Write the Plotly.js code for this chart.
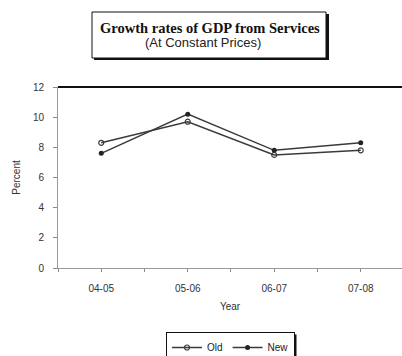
<!DOCTYPE html>
<html>
<head>
<meta charset="utf-8">
<script src="https://cdn.plot.ly/plotly-3.0.1.min.js"></script>
<style>
  html, body { margin: 0; padding: 0; background: #fff; }
  #chart { width: 402px; height: 356px; }
</style>
</head>
<body>
<div id="chart"></div>
<script>
// Services GDP growth, old vs new series (percent)
const years = ['04-05', '05-06', '06-07', '07-08'];
const oldSeries = [8.3, 9.7, 7.5, 7.8];
const newSeries = [7.6, 10.2, 7.8, 8.3];
const yTicks = [0, 2, 4, 6, 8, 10, 12];

const xIdx = years.map((_, i) => i);
const sans = 'Liberation Sans, Arial, sans-serif';
const serif = 'Liberation Serif, Times New Roman, serif';

const traces = [
  {
    x: xIdx, y: oldSeries, name: 'Old', type: 'scatter', mode: 'lines+markers',
    line: { color: '#3a3a3a', width: 1.5 },
    marker: { symbol: 'circle-open', size: 5, color: '#3a3a3a', line: { width: 1.2 } }
  },
  {
    x: xIdx, y: newSeries, name: 'New', type: 'scatter', mode: 'lines+markers',
    line: { color: '#3a3a3a', width: 1.5 },
    marker: { symbol: 'circle', size: 5, color: '#222' }
  }
];

// pixel helpers for paper coordinates (plot area 58..402 x 87..268)
const W = 402, H = 356;
const L = 58, R = 402, T = 87, B = 268;
const px = v => (v - L) / (R - L);
const py = v => (B - v) / (B - T);

const layout = {
  width: W, height: H,
  margin: { l: L, r: 0, t: T, b: H - B },
  paper_bgcolor: '#fff', plot_bgcolor: '#fff',
  showlegend: true,
  font: { family: sans, size: 10, color: '#333' },
  xaxis: {
    range: [-0.5, 3.477],
    tickvals: xIdx, ticktext: years,
    ticks: 'outside', ticklen: 3, tickcolor: '#888',
    minor: { dtick: 0.5, tick0: -0.5, ticks: 'outside', ticklen: 3, tickcolor: '#888' },
    showline: true, linecolor: '#999', linewidth: 1,
    showgrid: false, zeroline: false,
    automargin: false,
    ticklabelstandoff: 8,
    tickfont: { family: sans, size: 10, color: '#333' },
    title: { text: 'Year', font: { family: sans, size: 10, color: '#333' }, standoff: 9 }
  },
  yaxis: {
    range: [0, 12],
    tickvals: yTicks,
    ticks: 'outside', ticklen: 4, tickcolor: '#888',
    showline: true, linecolor: '#999', linewidth: 1,
    showgrid: false, zeroline: false,
    automargin: false,
    ticklabelstandoff: 7,
    tickfont: { family: sans, size: 10, color: '#333' },
    title: { text: 'Percent', font: { family: sans, size: 10, color: '#333' }, standoff: 10 }
  },
  legend: {
    orientation: 'h',
    xref: 'container', yref: 'container',
    x: 166 / W, xanchor: 'left',
    y: 1 - 332 / H, yanchor: 'top',
    bgcolor: '#fff', bordercolor: '#111', borderwidth: 1,
    font: { family: sans, size: 10, color: '#222' },
    itemwidth: 30, tracegroupgap: 0
  },
  shapes: [
    // heavy top border of the plot frame
    { type: 'line', xref: 'paper', yref: 'paper', x0: 0, x1: 1, y0: 1, y1: 1,
      line: { color: '#111', width: 2 } },
    // title box with drop shadow
    { type: 'rect', xref: 'paper', yref: 'paper', x0: px(94), x1: px(329), y0: py(14), y1: py(60),
      fillcolor: '#111', line: { width: 0 }, layer: 'above' },
    { type: 'rect', xref: 'paper', yref: 'paper', x0: px(92), x1: px(326), y0: py(12), y1: py(58),
      fillcolor: '#fff', line: { color: '#111', width: 1 }, layer: 'above' }
  ],
  annotations: [
    { xref: 'paper', yref: 'paper', x: px(210), y: py(28), xanchor: 'center', yanchor: 'middle',
      showarrow: false,
      text: '<b>Growth rates of GDP from Services</b>',
      font: { family: serif, size: 14.5, color: '#111' } },
    { xref: 'paper', yref: 'paper', x: px(203), y: py(43), xanchor: 'center', yanchor: 'middle',
      showarrow: false,
      text: '(At Constant Prices)',
      font: { family: sans, size: 13, color: '#222' } }
  ]
};

Plotly.newPlot('chart', traces, layout, { staticPlot: true, displayModeBar: false }).then(gd => {
  // drop shadow behind the legend box, sized from the rendered legend
  const bg = gd.querySelector('.legend .bg');
  if (!bg) return;
  const bb = bg.getBoundingClientRect();
  const root = gd.getBoundingClientRect();
  const x0 = bb.left - root.left, x1 = bb.right - root.left;
  const y0 = bb.top - root.top, y1 = bb.bottom - root.top;
  const shapes = gd.layout.shapes.concat([{
    type: 'rect', xref: 'paper', yref: 'paper',
    x0: px(x0 + 2), x1: px(x1 + 2), y0: py(y0 + 2), y1: py(y1 + 2),
    fillcolor: '#111', line: { width: 0 }, layer: 'above'
  }]);
  return Plotly.relayout(gd, { shapes });
});
</script>
</body>
</html>
